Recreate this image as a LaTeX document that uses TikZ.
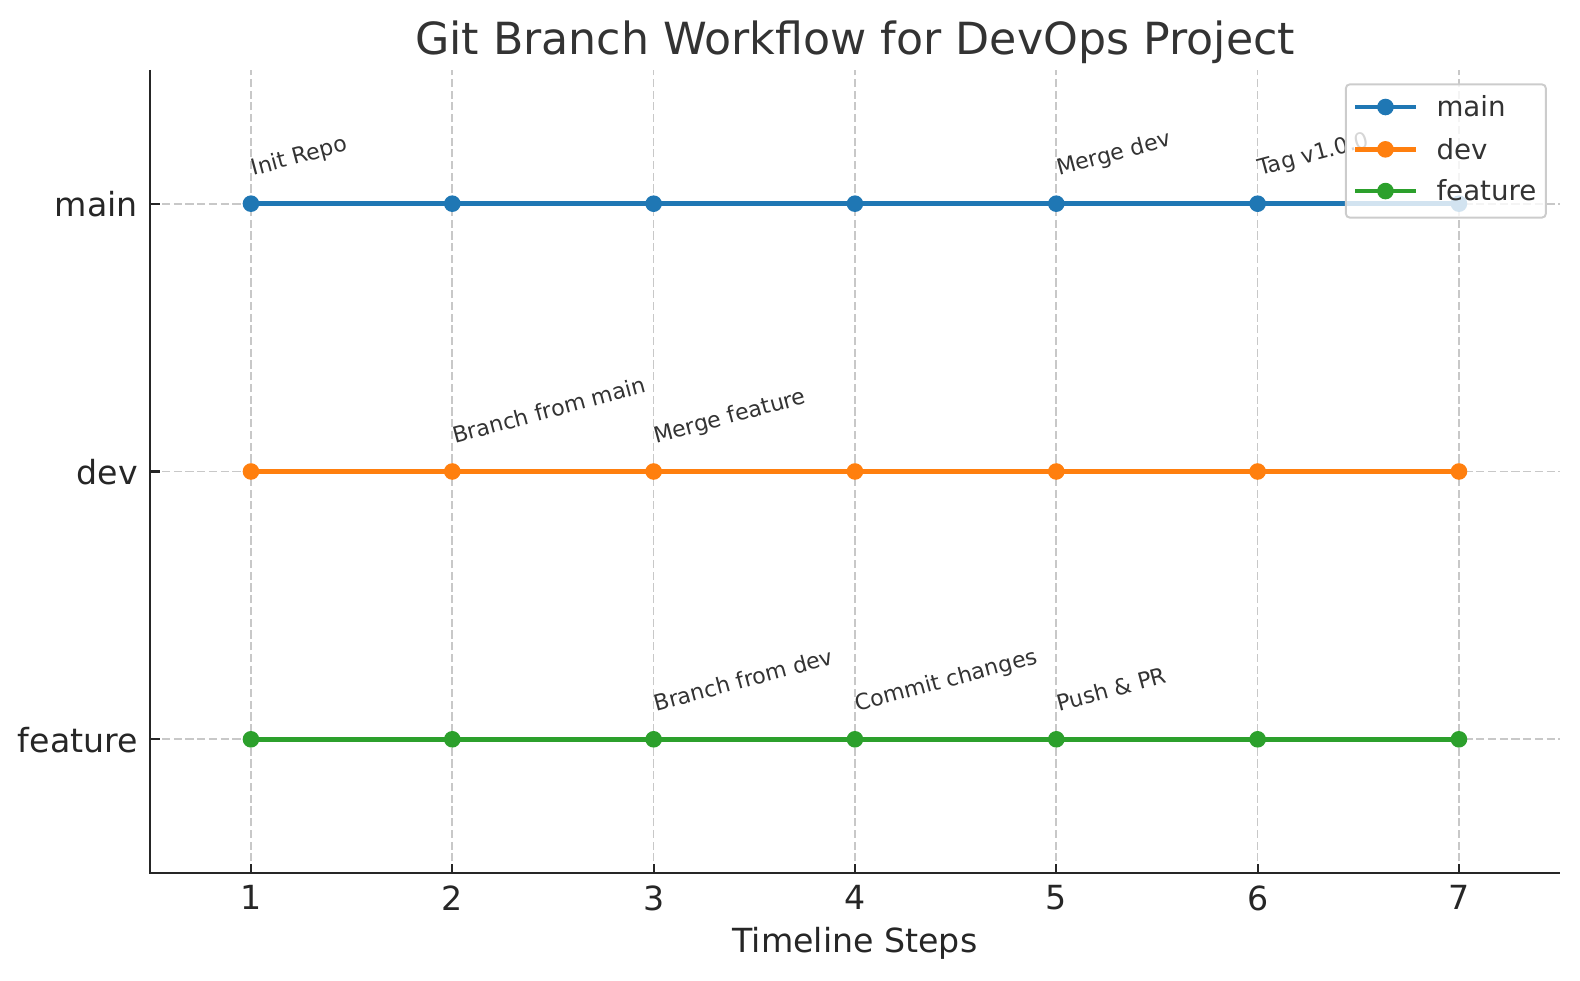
\documentclass[tikz,border=0pt]{standalone}
\usepackage{fontspec}
\setmainfont{DejaVu Sans}
\usepackage{xcolor}
\usepackage{tikz}
\usetikzlibrary{calc}
\definecolor{mainc}{HTML}{1F77B4}
\definecolor{devc}{HTML}{FF7F0E}
\definecolor{featc}{HTML}{2CA02C}
\definecolor{ink}{HTML}{262626}
\definecolor{note}{HTML}{333333}
\definecolor{gridc}{HTML}{C8C8C8}
\definecolor{frame}{HTML}{CCCCCC}
\tikzset{
  branchline/.style={line width=1.6pt},
  commit/.style={circle, inner sep=0pt, minimum size=6pt},
  gridl/.style={draw=gridc, dash pattern=on 2.96pt off 1.28pt, line width=0.6pt},
  spine/.style={draw=ink, line width=0.8pt},
  ticklab/.style={text=ink, font=\fontsize{12}{14}\selectfont, inner sep=0pt},
  notelab/.style={text=note, font=\fontsize{8}{10}\selectfont, rotate=15, anchor=base west, inner sep=0pt},
  leglab/.style={text=note, font=\fontsize{10}{12}\selectfont, anchor=base west, inner sep=0pt},
  legbox/.style={draw=frame, line width=0.7pt, fill=white, fill opacity=0.8, rounded corners=1.5pt}
}

\begin{document}
\begin{tikzpicture}[x=2.5569cm, y=3.4011cm]
  \useasboundingbox (-0.2465,-0.8988) rectangle (7.6013,2.7606);

  % grid
  \foreach \i in {1,...,7}
    \draw[gridl] (\i,-0.5) -- (\i,2.5);
  \foreach \y in {0,1,2}
    \draw[gridl] (0.5,\y) -- (7.5,\y);

  % axes
  \coordinate (O) at (0.5,-0.5);
  \draw[spine] (0.5,2.5) -- (O) -- (7.5,-0.5);
  \foreach \i in {1,...,7} {
    \draw[spine] (\i,-0.5) -- ++(0,3.5pt);
    \node[ticklab, anchor=north] (x\i) at ($(\i,-0.5)+(0,-4.2pt)$) {\i};
  }
  \foreach \y/\t in {2/main, 1/dev, 0/feature} {
    \draw[spine] (0.5,\y) -- ++(3.5pt,0);
    \node[ticklab, anchor=base east] (y\t) at ($(0.5,\y)+(-4.3pt,-4.8pt)$) {\t};
  }

  % branches
  \foreach \b/\y/\c in {m/2/mainc, d/1/devc, f/0/featc} {
    \foreach \i in {1,...,7}
      \coordinate (\b\i) at (\i,\y);
    \draw[branchline, draw=\c] (\b1) -- (\b7);
    \foreach \i in {1,...,7}
      \node[commit, fill=\c] (c\b\i) at (\b\i) {};
  }

  % events
  \node[notelab] (init) at ($(m1)+(0.8pt,10pt)$) {Init Repo};
  \node[notelab] (mdev) at ($(m5)+(0.8pt,10pt)$) {Merge dev};
  \node[notelab] (tag) at ($(m6)+(0.8pt,10pt)$) {Tag v1.0.0};
  \node[notelab] (bmain) at ($(d2)+(0.8pt,10pt)$) {Branch from main};
  \node[notelab] (mfeat) at ($(d3)+(0.8pt,10pt)$) {Merge feature};
  \node[notelab] (bdev) at ($(f3)+(0.8pt,10pt)$) {Branch from dev};
  \node[notelab] (commit) at ($(f4)+(0.8pt,10pt)$) {Commit changes};
  \node[notelab] (push) at ($(f5)+(0.8pt,10pt)$) {Push \& PR};

  % legend
  \draw[legbox] (6.438,1.9477) rectangle (7.432,2.4458);
  \foreach \y/\c/\t in {2.361/mainc/main, 2.2029/devc/dev, 2.0471/featc/feature} {
    \coordinate (l\t a) at (6.484,\y);
    \coordinate (l\t b) at (6.786,\y);
    \draw[branchline, draw=\c] (l\t a) -- (l\t b);
    \node[commit, fill=\c] (l\t) at ($(l\t a)!0.5!(l\t b)$) {};
    \node[leglab] (k\t) at ($(6.8857,\y)+(0,-3.5pt)$) {\t};
  }

  % titles
  \node[text=note, font=\fontsize{16}{19}\selectfont, anchor=base, inner sep=0pt] (title) at (4,2.5579) {Git Branch Workflow for DevOps Project};
  \node[text=ink, font=\fontsize{12}{14}\selectfont, anchor=base, inner sep=0pt] (xlab) at (4,-0.7969) {Timeline Steps};
\end{tikzpicture}
\end{document}
